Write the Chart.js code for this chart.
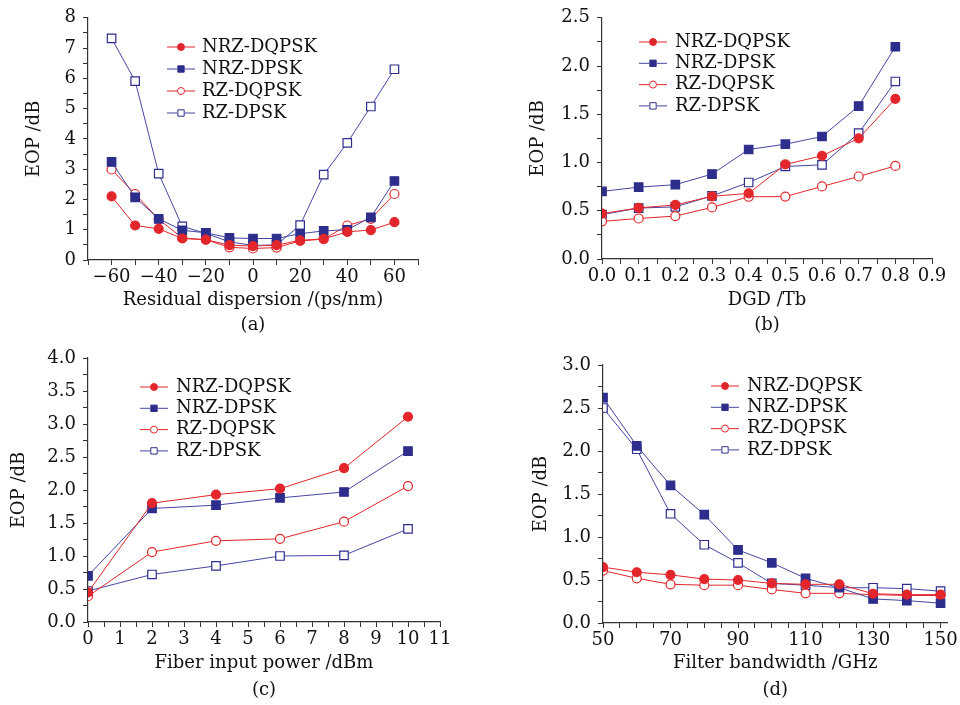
<!DOCTYPE html>
<html>
<head>
<meta charset="utf-8">
<script src="https://cdn.jsdelivr.net/npm/chart.js@4.4.1/dist/chart.umd.min.js"></script>
<style>
  html, body { margin: 0; padding: 0; background: #fff; }
  #wrap { position: relative; width: 960px; height: 705px; }
  canvas { position: absolute; }
</style>
</head>
<body>
<div id="wrap">
  <canvas id="pa" width="480" height="340" style="left:0;top:0"></canvas>
  <canvas id="pb" width="480" height="340" style="left:480px;top:0"></canvas>
  <canvas id="pc" width="480" height="365" style="left:0;top:340px"></canvas>
  <canvas id="pd" width="480" height="365" style="left:480px;top:340px"></canvas>
</div>
<script>
// series names (same order in every panel)
const seriesNames = ['NRZ-DQPSK', 'NRZ-DPSK', 'RZ-DQPSK', 'RZ-DPSK'];

// (a) residual dispersion
const dispersion = [-60, -50, -40, -30, -20, -10, 0, 10, 20, 30, 40, 50, 60];
const aNrzDqpsk = [2.10, 1.14, 1.03, 0.71, 0.67, 0.49, 0.46, 0.49, 0.65, 0.70, 0.93, 0.99, 1.25];
const aNrzDpsk  = [3.24, 2.07, 1.36, 0.98, 0.90, 0.73, 0.71, 0.71, 0.87, 0.96, 1.00, 1.41, 2.61];
const aRzDqpsk  = [2.99, 2.18, 1.34, 0.73, 0.67, 0.42, 0.38, 0.41, 0.63, 0.69, 1.14, 1.36, 2.18];
const aRzDpsk   = [7.32, 5.91, 2.85, 1.11, 0.88, 0.60, 0.48, 0.50, 1.15, 2.82, 3.87, 5.07, 6.30];

// (b) DGD
const dgd = [0, 0.1, 0.2, 0.3, 0.4, 0.5, 0.6, 0.7, 0.8];
const bNrzDqpsk = [0.47, 0.53, 0.56, 0.65, 0.68, 0.98, 1.07, 1.25, 1.66];
const bNrzDpsk  = [0.70, 0.745, 0.77, 0.88, 1.135, 1.19, 1.27, 1.585, 2.20];
const bRzDqpsk  = [0.39, 0.42, 0.445, 0.535, 0.645, 0.647, 0.752, 0.855, 0.965];
const bRzDpsk   = [0.46, 0.528, 0.54, 0.654, 0.793, 0.959, 0.976, 1.304, 1.84];

// (c) fiber input power
const power = [0, 2, 4, 6, 8, 10];
const cNrzDqpsk = [0.45, 1.80, 1.93, 2.02, 2.33, 3.11];
const cNrzDpsk  = [0.70, 1.72, 1.77, 1.88, 1.97, 2.59];
const cRzDqpsk  = [0.39, 1.06, 1.23, 1.26, 1.52, 2.06];
const cRzDpsk   = [0.47, 0.72, 0.85, 1.00, 1.01, 1.41];

// (d) filter bandwidth
const bandwidth = [50, 60, 70, 80, 90, 100, 110, 120, 130, 140, 150];
const dNrzDqpsk = [0.65, 0.59, 0.56, 0.51, 0.50, 0.46, 0.45, 0.45, 0.34, 0.33, 0.33];
const dNrzDpsk  = [2.62, 2.06, 1.60, 1.26, 0.85, 0.70, 0.52, 0.41, 0.28, 0.26, 0.23];
const dRzDqpsk  = [0.61, 0.52, 0.45, 0.44, 0.44, 0.39, 0.345, 0.345, 0.33, 0.32, 0.32];
const dRzDpsk   = [2.50, 2.02, 1.27, 0.91, 0.70, 0.46, 0.44, 0.41, 0.41, 0.40, 0.37];

const RED = '#e3262b';
const BLUE = '#2d2d8c';
const BLUE_LINE = '#4545a3';
const AXIS = '#333';

Chart.defaults.font.family = '"DejaVu Serif", serif';
Chart.defaults.font.size = 18;
Chart.defaults.color = '#111';

const seriesStyle = [
  { color: RED,  line: RED,       fill: RED,    shape: 'circle', r: 4.5 },
  { color: BLUE, line: BLUE_LINE, fill: BLUE,   shape: 'rect',   r: 6 },
  { color: RED,  line: RED,       fill: '#fff', shape: 'circle', r: 4.5 },
  { color: BLUE, line: BLUE_LINE, fill: '#fff', shape: 'rect',   r: 6 }
];

function pairs(xs, ys) {
  return xs.map((x, i) => ({ x: x, y: ys[i] }));
}

function buildDatasets(xs, lists) {
  return lists.map((ys, i) => {
    const s = seriesStyle[i];
    return {
      label: seriesNames[i],
      data: pairs(xs, ys),
      borderColor: s.line,
      borderWidth: 1,
      pointStyle: s.shape,
      pointRadius: s.r,
      pointBorderWidth: 1.2,
      pointBorderColor: s.color,
      pointBackgroundColor: s.fill,
      tension: 0
    };
  });
}

// legend drawn inside the plot, "-o-" style like the figure
const inlineLegend = {
  id: 'inlineLegend',
  afterDraw(chart, args, opts) {
    const ctx = chart.ctx;
    ctx.save();
    ctx.font = '18px "DejaVu Serif"';
    ctx.textBaseline = 'middle';
    chart.data.datasets.forEach((ds, i) => {
      const y = opts.y + i * opts.row;
      const x = opts.x;
      ctx.strokeStyle = ds.borderColor;
      ctx.lineWidth = 1;
      ctx.beginPath();
      ctx.moveTo(x, y); ctx.lineTo(x + 10, y);
      ctx.moveTo(x + 18, y); ctx.lineTo(x + 28, y);
      ctx.stroke();
      ctx.fillStyle = ds.pointBackgroundColor;
      ctx.strokeStyle = ds.pointBorderColor;
      Chart.helpers.drawPoint(ctx, { pointStyle: ds.pointStyle, radius: ds.pointStyle === 'rect' ? 4.5 : 3.5, rotation: 0, borderWidth: 1 }, x + 14, y);
      ctx.fillStyle = '#111';
      ctx.fillText(ds.label, opts.textX, y);
    });
    ctx.restore();
  }
};

function near(v, step) {
  return Math.abs(v / step - Math.round(v / step)) < 1e-6;
}

function makePanel(id, p) {
  new Chart(document.getElementById(id), {
    type: 'line',
    data: { datasets: buildDatasets(p.xs, p.series) },
    options: {
      responsive: false,
      animation: false,
      layout: { padding: { top: p.padTop, right: p.padRight, left: 0, bottom: 0 } },
      plugins: {
        legend: { display: false },
        tooltip: { enabled: false },
        inlineLegend: p.legend
      },
      scales: {
        x: {
          type: 'linear',
          min: p.xMin, max: p.xMax,
          afterFit(scale) { scale.height = p.xHeight; },
          afterBuildTicks(scale) {
            if (p.xTickList) scale.ticks = p.xTickList.map(v => ({ value: v }));
          },
          grid: { drawOnChartArea: false, drawTicks: true, tickLength: 5, color: AXIS },
          border: { display: true, color: AXIS, width: 1.2 },
          ticks: {
            stepSize: p.xStep,
            autoSkip: false,
            maxRotation: 0,
            padding: 2,
            color: '#111',
            callback: p.xLabel
          },
          title: {
            display: true,
            text: [p.xTitle, p.caption],
            color: '#111',
            font: { size: 18, lineHeight: p.capGap + 'px' },
            padding: { top: 0, bottom: 15 - p.capGap / 2 }
          }
        },
        y: {
          type: 'linear',
          min: 0, max: p.yMax,
          afterFit(scale) { scale.width = p.yWidth; },
          grid: { drawOnChartArea: false, drawTicks: true, tickLength: 5, color: AXIS },
          border: { display: true, color: AXIS, width: 1.2 },
          ticks: {
            stepSize: p.yStep,
            autoSkip: false,
            padding: 7,
            color: '#111',
            callback: v => near(v, p.yMajor) ? v.toFixed(p.yDec) : ''
          },
          title: {
            display: true,
            text: 'EOP /dB',
            color: '#111',
            font: { size: 18 },
            padding: { top: p.yTitlePad, bottom: 0 }
          }
        }
      }
    },
    plugins: [inlineLegend]
  });
}

const bandTicks = [];
for (let v = 50; v <= 150; v += 5) bandTicks.push(v);

makePanel('pa', {
  xs: dispersion, series: [aNrzDqpsk, aNrzDpsk, aRzDqpsk, aRzDpsk],
  xMin: -70, xMax: 70, xStep: 10,
  xLabel: v => near(v, 20) && Math.abs(v) < 70 ? String(v).replace('-', '\u2212') : '',
  yMax: 8, yStep: 0.5, yMajor: 1, yDec: 0,
  padTop: 15, padRight: 62, yWidth: 88, xHeight: 80, yTitlePad: 24,
  xTitle: 'Residual dispersion /(ps/nm)', caption: '(a)', capGap: 25,
  legend: { x: 167, textX: 202, y: 47, row: 22 }
});

makePanel('pb', {
  xs: dgd, series: [bNrzDqpsk, bNrzDpsk, bRzDqpsk, bRzDpsk],
  xMin: 0, xMax: 0.9, xStep: 0.05,
  xLabel: v => near(v, 0.1) ? v.toFixed(1) : '',
  yMax: 2.5, yStep: 0.25, yMajor: 0.5, yDec: 1,
  padTop: 13, padRight: 28, yWidth: 122, xHeight: 81, yTitlePad: 48,
  xTitle: 'DGD /Tb', caption: '(b)', capGap: 25,
  legend: { x: 159, textX: 195, y: 42, row: 21.3 }
});

makePanel('pc', {
  xs: power, series: [cNrzDqpsk, cNrzDpsk, cRzDqpsk, cRzDpsk],
  xMin: 0, xMax: 11, xStep: 0.5,
  xLabel: v => near(v, 1) ? String(Math.round(v)) : '',
  yMax: 4, yStep: 0.25, yMajor: 0.5, yDec: 1,
  padTop: 18, padRight: 40, yWidth: 88, xHeight: 83, yTitlePad: 9,
  xTitle: 'Fiber input power /dBm', caption: '(c)', capGap: 27,
  legend: { x: 140, textX: 176, y: 47, row: 21.3 }
});

makePanel('pd', {
  xs: bandwidth, series: [dNrzDqpsk, dNrzDpsk, dRzDqpsk, dRzDpsk],
  xMin: 50, xMax: 152, xStep: 5, xTickList: bandTicks,
  xLabel: v => near(v - 50, 20) ? String(v) : '',
  yMax: 3, yStep: 0.25, yMajor: 0.5, yDec: 1,
  padTop: 25, padRight: 12, yWidth: 123, xHeight: 82, yTitlePad: 51,
  xTitle: 'Filter bandwidth /GHz', caption: '(d)', capGap: 27,
  legend: { x: 231, textX: 267, y: 46, row: 21.3 }
});
</script>
</body>
</html>
